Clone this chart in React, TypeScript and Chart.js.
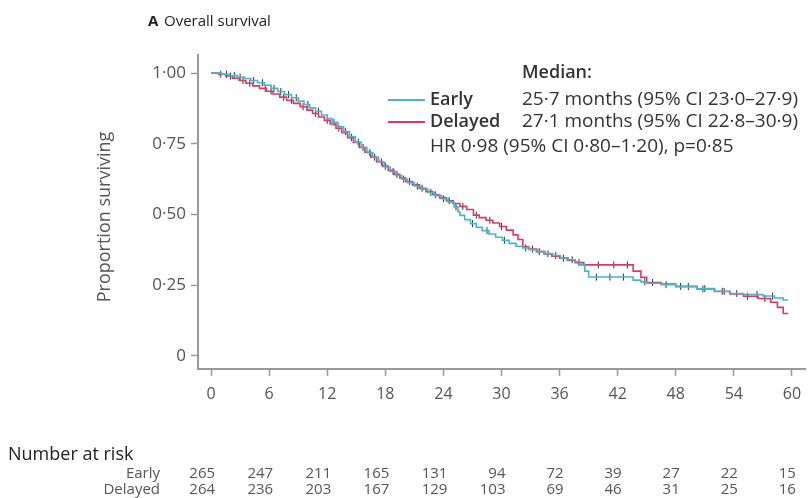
import React, { useEffect, useRef } from 'react';
import { Chart, registerables } from 'chart.js';

Chart.register(...registerables);

const FONT = '"Open Sans", "Noto Sans", "DejaVu Sans", sans-serif';

const xTicks = [0, 6, 12, 18, 24, 30, 36, 42, 48, 54, 60];
const yTicks = [0, 0.25, 0.5, 0.75, 1];
const yTickLabels = ['0', '0·25', '0·50', '0·75', '1·00'];

const atRiskTimes = [0, 6, 12, 18, 24, 30, 36, 42, 48, 54, 60];
const atRiskEarly = [265, 247, 211, 165, 131, 94, 72, 39, 27, 22, 15];
const atRiskDelayed = [264, 236, 203, 167, 129, 103, 69, 46, 31, 25, 16];

const earlyTimes = [0, 1.1, 1.9, 2.7, 3.4, 4.1, 4.8, 5.5, 6.2, 6.9, 7.6, 8.3, 9.0, 9.6, 10.2, 10.8, 11.4, 12.0, 12.5, 13.1, 13.7, 14.3, 14.9, 15.5, 16.1, 16.7, 17.3, 17.9, 18.5, 19.1, 19.7, 20.3, 21.0, 21.7, 22.4, 23.1, 23.8, 24.5, 25.1, 25.5, 25.7, 26.2, 26.8, 27.4, 28.0, 28.7, 29.4, 30.1, 30.8, 31.5, 32.2, 32.9, 33.7, 34.5, 35.3, 36.1, 36.9, 37.6, 38.1, 38.6, 39.0, 43.6, 44.4, 45.0, 46.5, 48.0, 50.2, 52.0, 53.6, 55.0, 57.0, 58.2, 59.1, 59.6];
const earlySurv = [1.0, 0.996, 0.991, 0.986, 0.981, 0.974, 0.966, 0.957, 0.946, 0.935, 0.924, 0.913, 0.901, 0.889, 0.877, 0.865, 0.852, 0.839, 0.826, 0.81, 0.793, 0.776, 0.756, 0.737, 0.719, 0.702, 0.686, 0.668, 0.652, 0.638, 0.625, 0.613, 0.601, 0.59, 0.578, 0.567, 0.556, 0.544, 0.527, 0.51, 0.497, 0.482, 0.468, 0.455, 0.443, 0.431, 0.42, 0.409, 0.398, 0.388, 0.382, 0.376, 0.369, 0.362, 0.355, 0.347, 0.34, 0.333, 0.322, 0.3, 0.279, 0.268, 0.262, 0.257, 0.252, 0.245, 0.238, 0.229, 0.221, 0.217, 0.212, 0.205, 0.198, 0.198];

const delayedTimes = [0, 0.8, 1.5, 2.2, 2.9, 3.6, 4.3, 5.0, 5.7, 6.4, 7.1, 7.8, 8.5, 9.2, 9.9, 10.5, 11.1, 11.7, 12.3, 12.9, 13.5, 14.1, 14.7, 15.3, 15.9, 16.5, 17.1, 17.7, 18.3, 18.9, 19.5, 20.1, 20.8, 21.5, 22.2, 22.9, 23.6, 24.3, 25.0, 25.7, 26.4, 27.1, 27.7, 28.4, 29.1, 29.8, 30.5, 31.2, 31.7, 32.2, 32.8, 33.6, 34.4, 35.2, 36.0, 36.8, 37.6, 38.5, 43.6, 44.4, 45.0, 46.5, 48.0, 50.2, 52.0, 53.6, 55.0, 56.5, 57.8, 58.5, 59.1, 59.6];
const delayedSurv = [1.0, 0.996, 0.99, 0.982, 0.974, 0.964, 0.955, 0.946, 0.936, 0.926, 0.915, 0.904, 0.893, 0.881, 0.869, 0.857, 0.845, 0.833, 0.82, 0.805, 0.789, 0.772, 0.755, 0.737, 0.72, 0.703, 0.687, 0.671, 0.656, 0.642, 0.629, 0.617, 0.605, 0.593, 0.581, 0.57, 0.559, 0.549, 0.539, 0.529, 0.518, 0.498, 0.489, 0.48, 0.47, 0.458, 0.445, 0.428, 0.412, 0.386, 0.378, 0.369, 0.361, 0.353, 0.346, 0.338, 0.33, 0.322, 0.3, 0.278, 0.26, 0.254, 0.246, 0.237, 0.228, 0.219, 0.211, 0.203, 0.19, 0.172, 0.15, 0.15];

const earlyCensor = [1.6, 2.4, 3.0, 4.4, 5.3, 6.5, 7.2, 8.0, 8.8, 10.0, 11.1, 12.7, 13.9, 15.2, 16.4, 17.6, 18.8, 19.9, 21.3, 22.7, 24.0, 25.3, 27.0, 28.5, 30.3, 32.5, 33.9, 35.6, 37.3, 39.8, 41.2, 42.6, 44.8, 47.0, 49.3, 51.0, 52.8, 54.3, 56.4, 58.0];
const delayedCensor = [1.0, 2.0, 3.3, 4.0, 5.6, 6.2, 7.5, 8.3, 9.5, 10.8, 12.0, 13.2, 14.5, 15.7, 16.9, 18.0, 19.2, 20.5, 21.8, 23.2, 24.6, 26.0, 27.4, 28.8, 30.0, 33.2, 34.8, 36.4, 38.0, 40.0, 41.6, 43.0, 45.6, 48.5, 50.8, 53.0, 55.4, 57.2];

const EARLY_COLOR = '#47b7c7';
const DELAYED_COLOR = '#d83a6a';

function survAt(times: number[], surv: number[], t: number) {
  let s = surv[0];
  for (let i = 0; i < times.length; i++) {
    if (times[i] <= t) s = surv[i];
  }
  return s;
}

const overlay = {
  id: 'overlay',
  afterDraw(chart: any) {
    const ctx = chart.ctx;
    const xs = chart.scales.x;
    ctx.save();
    ctx.textBaseline = 'middle';
    // title
    ctx.fillStyle = '#222';
    ctx.textAlign = 'left';
    ctx.font = `bold 15px ${FONT}`;
    ctx.fillText('A', 148, 22);
    ctx.font = `15px ${FONT}`;
    ctx.fillText('Overall survival', 164, 22);

    // y-axis title
    ctx.save();
    ctx.translate(105, 217);
    ctx.rotate(-Math.PI / 2);
    ctx.textAlign = 'center';
    ctx.fillStyle = '#555';
    ctx.font = `18px ${FONT}`;
    ctx.fillText('Proportion surviving', 0, 0);
    ctx.restore();

    // legend
    ctx.textAlign = 'left';
    ctx.fillStyle = '#333';
    ctx.font = `600 18px ${FONT}`;
    ctx.fillText('Median:', 522, 73);
    ctx.lineWidth = 2;
    ctx.strokeStyle = EARLY_COLOR;
    ctx.beginPath(); ctx.moveTo(388, 100); ctx.lineTo(425, 100); ctx.stroke();
    ctx.strokeStyle = DELAYED_COLOR;
    ctx.beginPath(); ctx.moveTo(388, 122); ctx.lineTo(425, 122); ctx.stroke();
    ctx.fillText('Early', 430, 100);
    ctx.fillText('Delayed', 430, 122);
    ctx.font = `19px ${FONT}`;
    ctx.fillText('25·7 months (95% CI 23·0–27·9)', 522, 100);
    ctx.fillText('27·1 months (95% CI 22·8–30·9)', 522, 122);
    ctx.fillText('HR 0·98 (95% CI 0·80–1·20), p=0·85', 430, 147);

    // number at risk table
    ctx.fillStyle = '#222';
    ctx.font = `18px ${FONT}`;
    ctx.fillText('Number at risk', 8, 455);
    ctx.fillStyle = '#555';
    ctx.textAlign = 'right';
    ctx.font = `15px ${FONT}`;
    ctx.fillText('Early', 160, 474);
    ctx.fillText('Delayed', 160, 490);
    atRiskTimes.forEach((t, i) => {
      const px = xs.getPixelForValue(t) + 4;
      ctx.fillText(String(atRiskEarly[i]), px, 474);
      ctx.fillText(String(atRiskDelayed[i]), px, 490);
    });
    ctx.restore();
  },
};

export default function App() {
  const ref = useRef<HTMLCanvasElement>(null);
  useEffect(() => {
    document.body.style.margin = '0';
    const canvas = ref.current;
    if (!canvas) return;
    const earlyLine = earlyTimes.map((t, i) => ({ x: t, y: earlySurv[i] }));
    const delayedLine = delayedTimes.map((t, i) => ({ x: t, y: delayedSurv[i] }));
    const earlyMarks = earlyCensor.map((t) => ({ x: t, y: survAt(earlyTimes, earlySurv, t) }));
    const delayedMarks = delayedCensor.map((t) => ({ x: t, y: survAt(delayedTimes, delayedSurv, t) }));
    const chart = new Chart(canvas, {
      type: 'line',
      data: {
        datasets: [
          { label: 'Early', data: earlyLine, borderColor: EARLY_COLOR, borderWidth: 1.6, pointRadius: 0, stepped: 'before', fill: false },
          { label: 'Delayed', data: delayedLine, borderColor: DELAYED_COLOR, borderWidth: 1.6, pointRadius: 0, stepped: 'before', fill: false },
          { label: 'EarlyC', data: earlyMarks, showLine: false, pointStyle: 'line', rotation: 90, pointRadius: 3.5, borderColor: '#333', pointBorderColor: '#333', pointBorderWidth: 1, borderWidth: 1 },
          { label: 'DelayedC', data: delayedMarks, showLine: false, pointStyle: 'line', rotation: 90, pointRadius: 3.5, borderColor: '#333', pointBorderColor: '#333', pointBorderWidth: 1, borderWidth: 1 },
        ],
      } as any,
      options: {
        animation: false,
        responsive: false,
        maintainAspectRatio: false,
        layout: { padding: { top: 55, right: 7, left: 0, bottom: 0 } },
        plugins: { legend: { display: false }, tooltip: { enabled: false }, title: { display: false } },
        scales: {
          x: {
            type: 'linear',
            min: -1.35,
            max: 61.35,
            afterBuildTicks: (s: any) => { s.ticks = xTicks.map((v) => ({ value: v })); },
            afterFit: (s: any) => { s.height = 129; },
            ticks: { color: '#555', font: { family: FONT, size: 16 }, padding: 9, maxRotation: 0, autoSkip: false },
            grid: { display: true, drawOnChartArea: false, drawTicks: true, tickLength: 7, tickColor: '#999', tickWidth: 1.5 },
            border: { display: true, color: '#999', width: 2 },
          },
          y: {
            type: 'linear',
            min: -0.046,
            max: 1.064,
            afterBuildTicks: (s: any) => { s.ticks = yTicks.map((v) => ({ value: v })); },
            afterFit: (s: any) => { s.width = 198; },
            ticks: {
              color: '#555',
              font: { family: FONT, size: 17 },
              padding: 5,
              callback: (v: any) => { const i = yTicks.indexOf(Number(v)); return i >= 0 ? yTickLabels[i] : ''; },
            },
            grid: { display: true, drawOnChartArea: false, drawTicks: true, tickLength: 7, tickColor: '#999', tickWidth: 1.5 },
            border: { display: true, color: '#999', width: 2 },
          },
        },
      } as any,
      plugins: [overlay],
    });
    return () => chart.destroy();
  }, []);
  return (
    <div style={{ width: 812, height: 498 }}>
      <canvas ref={ref} width={812} height={498} style={{ display: 'block' }} />
    </div>
  );
}
